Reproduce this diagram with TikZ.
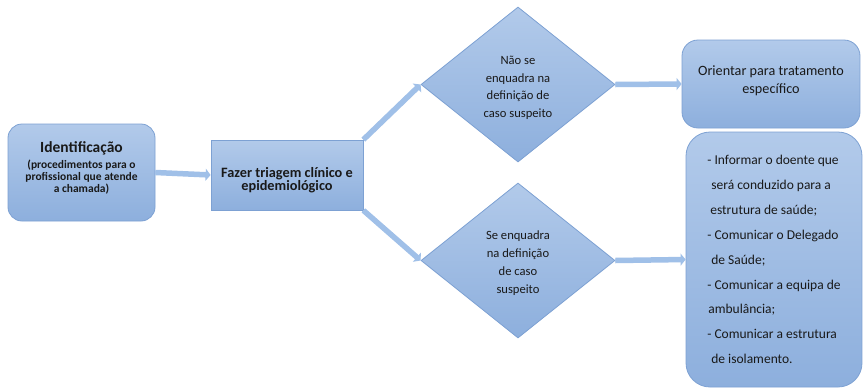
\documentclass[tikz,border=0pt]{standalone}
\usepackage{fontspec}
\setmainfont{Carlito}
\usetikzlibrary{shapes.geometric,arrows.meta}
\definecolor{boxtop}{RGB}{178,202,234}
\definecolor{boxbot}{RGB}{141,175,221}
\definecolor{boxline}{RGB}{125,161,211}
\definecolor{arrfill}{RGB}{160,192,232}
\definecolor{txt}{RGB}{25,25,25}
\newcommand{\bigf}{\fontsize{15.5}{18}\selectfont}
\newcommand{\smallf}{\fontsize{11.5}{13}\selectfont}
\newcommand{\toph}[1]{\rule{0pt}{#1}}
\newcommand{\botd}[1]{\rule[-#1]{0pt}{#1}}
\tikzset{
  box/.style={draw=boxline, line width=0.8pt, top color=boxtop, bottom color=boxbot,
    text=txt, align=center, inner sep=0pt},
  rbox/.style={box, rounded corners=14pt},
  dbox/.style={box, diamond, shape aspect=1},
  flow/.style={draw=boxline!85, line width=5.5pt, arrfill,
    -{Triangle[length=5pt,width=12pt]}},
  flowin/.style={draw=arrfill, line width=3.8pt, shorten >=4pt},
}
\begin{document}
\begin{tikzpicture}[x=1pt,y=-1pt]
\useasboundingbox (0,0) rectangle (863,389);
\fill[white] (0,0) rectangle (863,389);

\node[rbox, minimum width=147pt, minimum height=97pt, font=\bfseries] (ident) at (81.5,172.5)
  {\bigf Identificação\\[4pt] \smallf (procedimentos para o\\ \smallf profissional que atende\\ \smallf a chamada)\botd{10pt}};

\node[box, minimum width=152pt, minimum height=70pt, font=\fontsize{14.3}{13.5}\selectfont\bfseries] (triage) at (287,175)
  {\toph{20pt}Fazer triagem clínico e\\ epidemiológico};

\node[dbox, minimum width=194pt, minimum height=155pt, font=\fontsize{12.6}{17.7}\selectfont] (nao) at (518,84.5)
  {\toph{15pt}Não se\\ enquadra na\\ definição de\\ caso suspeito};

\node[dbox, minimum width=194pt, minimum height=155pt, font=\fontsize{12.6}{18}\selectfont] (sim) at (518,260.5)
  {\toph{15pt}Se enquadra\\ na definição\\ de caso\\ suspeito};

\node[rbox, rounded corners=16pt, minimum width=178pt, minimum height=88pt, font=\fontsize{14.2}{18}\selectfont] (orient) at (771,84)
  {Orientar para tratamento\\ específico\botd{8pt}};

\node[rbox, rounded corners=24pt, minimum width=176pt, minimum height=255pt, align=left, font=\fontsize{13.5}{24.9}\selectfont] (acoes) at (774,259.5)
  {- Informar o doente que\\
   \hspace*{4pt}será conduzido para a\\
   \hspace*{3pt}estrutura de saúde;\\
   - Comunicar o Delegado\\
   \hspace*{4pt}de Saúde;\\
   - Comunicar a equipa de\\
   \hspace*{1pt}ambulância;\\
   - Comunicar a estrutura\\
   \hspace*{4pt}de isolamento.};

\foreach \a/\b in {ident.east/triage.west, nao.east/orient.west, sim.east/acoes.west}{
  \draw[flow] (\a) -- (\b);
  \draw[flowin] (\a) -- (\b);
}
\draw[flow] (triage.north east) -- (nao.west);
\draw[flowin] (triage.north east) -- (nao.west);
\draw[flow] (triage.south east) -- (sim.west);
\draw[flowin] (triage.south east) -- (sim.west);
\end{tikzpicture}
\end{document}
